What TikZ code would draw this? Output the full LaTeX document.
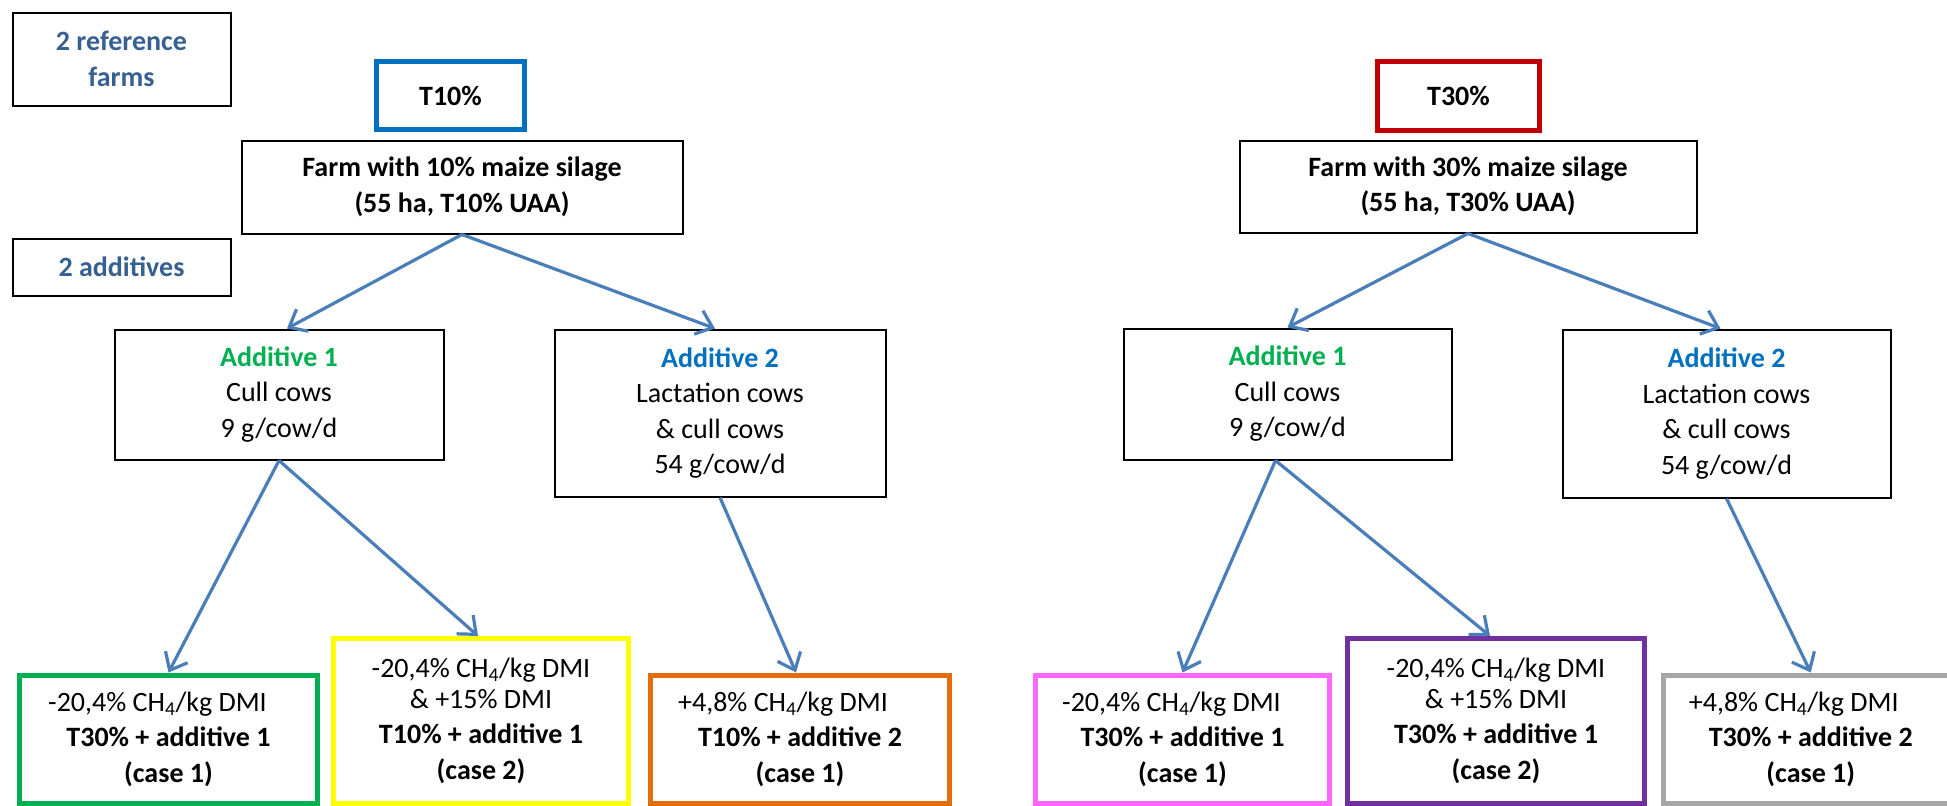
\documentclass[tikz,border=0pt]{standalone}
\usepackage{fontspec}
\setmainfont{Carlito}
\usetikzlibrary{arrows.meta}
\definecolor{refblue}{HTML}{376092}
\definecolor{arrowblue}{HTML}{4A7EBB}
\definecolor{tenblue}{HTML}{0070C0}
\definecolor{thirtyred}{HTML}{C00000}
\definecolor{addgreen}{HTML}{00B050}
\definecolor{addblue}{HTML}{0070C0}
\definecolor{cgreen}{HTML}{00B050}
\definecolor{cyellow}{HTML}{FFFF00}
\definecolor{corange}{HTML}{E46C0A}
\definecolor{cpink}{HTML}{FF66FF}
\definecolor{cpurple}{HTML}{7030A0}
\definecolor{cgray}{HTML}{A6A6A6}
\newcommand\dgfont{\fontsize{28}{35.5}\selectfont}
\begin{document}
\begin{tikzpicture}[x=1pt,y=-1pt,
  box/.style={draw=black, line width=2pt, rectangle, inner sep=0pt, align=center, font=\dgfont},
  cbox/.style={box, line width=5pt},
  arr/.style={draw=arrowblue, line width=3.2pt, -{Straight Barb[length=15pt,width=25pt]}},
]
\useasboundingbox[fill=white] (0,0) rectangle (1947,806);

% labels
\node[box, minimum width=218pt, minimum height=93pt, text=refblue, font=\dgfont\bfseries] (ref) at (121.5,59) {2 reference\\farms};
\node[box, minimum width=218pt, minimum height=57pt, text=refblue, font=\dgfont\bfseries] (adds) at (121.5,267) {2 additives};

% left tree
\node[cbox, draw=tenblue, minimum width=148pt, minimum height=68pt, font=\dgfont\bfseries] (t10) at (450.5,95.5) {T10\%};
\node[box, minimum width=441pt, minimum height=93pt, font=\dgfont\bfseries] (farmL) at (462,187) {Farm with 10\% maize silage\\(55 ha, T10\% UAA)};
\node[box, minimum width=329pt, minimum height=130pt] (a1L) at (279,394.5) {\textcolor{addgreen}{\bfseries Additive 1}\\Cull cows\\9 g/cow/d};
\node[box, minimum width=331pt, minimum height=167pt] (a2L) at (720,413) {\textcolor{addblue}{\bfseries Additive 2}\\Lactation cows\\\& cull cows\\54 g/cow/d};
\node[cbox, draw=cgreen, minimum width=298pt, minimum height=128pt] (cgL) at (168.5,739) {-20,4\% CH\textsubscript{4}/kg DMI\hspace*{22pt}\\\textbf{T30\% + additive 1}\\\textbf{(case 1)}};
\node[cbox, draw=cyellow, minimum width=295pt, minimum height=164.5pt] (cyL) at (481,720.75) {-20,4\% CH\textsubscript{4}/kg DMI\\[-5pt]\& +15\% DMI\\\textbf{T10\% + additive 1}\\\textbf{(case 2)}};
\node[cbox, draw=corange, minimum width=299pt, minimum height=128pt] (coL) at (800,739) {+4,8\% CH\textsubscript{4}/kg DMI\hspace*{34pt}\\\textbf{T10\% + additive 2}\hspace*{8pt}\\\textbf{(case 1)}};

% right tree
\node[cbox, draw=thirtyred, minimum width=162pt, minimum height=69pt, font=\dgfont\bfseries] (t30) at (1458.5,96) {T30\%};
\node[box, minimum width=457pt, minimum height=92pt, font=\dgfont\bfseries] (farmR) at (1468,186.5) {Farm with 30\% maize silage\\(55 ha, T30\% UAA)};
\node[box, minimum width=328pt, minimum height=131pt] (a1R) at (1287.5,394) {\textcolor{addgreen}{\bfseries Additive 1}\\Cull cows\\9 g/cow/d};
\node[box, minimum width=328pt, minimum height=168pt] (a2R) at (1726.5,413.5) {\textcolor{addblue}{\bfseries Additive 2}\\Lactation cows\\\& cull cows\\54 g/cow/d};
\node[cbox, draw=cpink, minimum width=294pt, minimum height=128pt] (cpR) at (1182.5,739) {-20,4\% CH\textsubscript{4}/kg DMI\hspace*{22pt}\\\textbf{T30\% + additive 1}\\\textbf{(case 1)}};
\node[cbox, draw=cpurple, minimum width=297pt, minimum height=164.5pt] (cuR) at (1496,720.75) {-20,4\% CH\textsubscript{4}/kg DMI\\[-5pt]\& +15\% DMI\\\textbf{T30\% + additive 1}\\\textbf{(case 2)}};
\node[cbox, draw=cgray, minimum width=294.5pt, minimum height=128pt] (cgR) at (1810.75,739) {+4,8\% CH\textsubscript{4}/kg DMI\hspace*{34pt}\\\textbf{T30\% + additive 2}\\\textbf{(case 1)}};

% connectors
\draw[arr] (farmL.south) -- ([xshift=8pt]a1L.north);
\draw[arr] (farmL.south) -- ([xshift=-5pt]a2L.north);
\draw[arr] (a1L.south) -- (cgL.north);
\draw[arr] (a1L.south) -- ([xshift=-3pt]cyL.north);
\draw[arr] (a2L.south) -- ([xshift=-4pt]coL.north);
\draw[arr] (farmR.south) -- (a1R.north);
\draw[arr] (farmR.south) -- ([xshift=-6pt]a2R.north);
\draw[arr] ([xshift=-12pt]a1R.south) -- (cpR.north);
\draw[arr] ([xshift=-12pt]a1R.south) -- ([xshift=-6pt]cuR.north);
\draw[arr] (a2R.south) -- (cgR.north);
\end{tikzpicture}
\end{document}
